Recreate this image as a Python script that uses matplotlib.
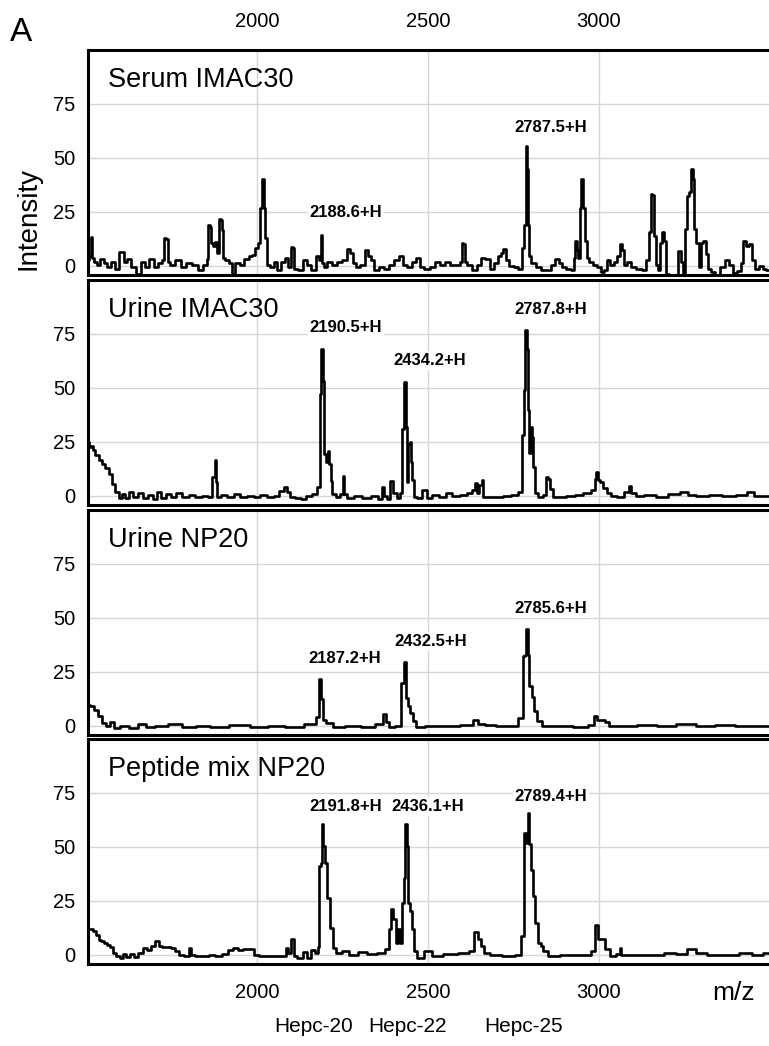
import matplotlib.pyplot as plt

plt.rcParams['font.family'] = ['Liberation Sans', 'DejaVu Sans']

# ---- spectra (m/z, intensity) ----
serum_mz = [1506, 1512, 1516, 1520, 1527, 1537, 1547, 1557, 1566, 1581, 1591, 1605, 1615, 1625,
            1639, 1654, 1669, 1678, 1693, 1703, 1717, 1727, 1732, 1737, 1740, 1751, 1771, 1786,
            1800, 1820, 1834, 1849, 1857, 1859, 1865, 1868, 1876, 1880, 1886, 1891, 1896, 1900,
            1903, 1913, 1922, 1932, 1942, 1956, 1971, 1981, 1990, 2000, 2007, 2013, 2018, 2022,
            2027, 2032, 2044, 2054, 2065, 2078, 2088, 2095, 2102, 2107, 2112, 2127, 2141, 2151,
            2166, 2180, 2185, 2190, 2193, 2198, 2212, 2227, 2242, 2256, 2269, 2276, 2283, 2295,
            2310, 2320, 2327, 2337, 2349, 2364, 2378, 2393, 2407, 2422, 2432, 2446, 2461, 2471,
            2481, 2495, 2515, 2529, 2544, 2558, 2573, 2588, 2597, 2600, 2606, 2609, 2622, 2636,
            2649, 2661, 2675, 2688, 2700, 2710, 2717, 2724, 2731, 2744, 2758, 2771, 2780, 2784,
            2788, 2792, 2794, 2798, 2807, 2822, 2836, 2851, 2866, 2877, 2888, 2898, 2912, 2922,
            2929, 2932, 2937, 2942, 2946, 2951, 2956, 2961, 2966, 2976, 2990, 3000, 3010, 3019,
            3026, 3039, 3049, 3058, 3063, 3070, 3076, 3088, 3102, 3117, 3132, 3144, 3149, 3153,
            3159, 3163, 3168, 3175, 3182, 3188, 3193, 3198, 3210, 3227, 3237, 3242, 3249, 3256,
            3261, 3266, 3271, 3276, 3281, 3288, 3294, 3302, 3309, 3315, 3322, 3334, 3346, 3361,
            3373, 3385, 3400, 3409, 3419, 3426, 3434, 3442, 3451, 3461, 3473, 3484, 3494]
serum_int = [2.7, 4.3, 13.1, 3.5, 1.9, 0.3, 3.0, 1.1, -0.5, 1.9, -1.3, 6.4, 1.9, 3.0,
             -0.5, -3.7, 1.9, -0.5, 3.0, -0.5, 1.1, 2.7, 12.7, 12.3, 1.9, 0.3, 2.7, -0.5,
             1.1, 0.3, -2.1, 0.3, 3.0, 18.8, 18.0, 10.7, 9.1, 11.1, 5.9, 21.6, 21.2, 16.4,
             3.5, 2.7, 1.1, -3.7, 1.1, 0.3, 3.0, 4.3, 5.1, 8.3, 10.7, 26.8, 40.4, 26.8,
             12.7, 0.3, -0.5, 1.9, -2.1, 1.9, 3.5, -0.5, 8.8, 8.3, -1.3, -2.1, 2.7, 0.3,
             -1.8, 4.3, 2.7, 14.3, 1.1, -0.5, 1.9, 0.3, 1.9, 2.7, 7.9, 5.9, 1.1, -0.5,
             0.3, 7.2, 4.3, 2.7, -2.1, -0.5, -1.3, 0.3, 2.7, 4.3, 0.3, -0.5, 1.9, 3.5,
             -0.5, -1.3, -0.5, 1.9, 0.3, 1.9, 0.3, 0.3, 1.9, 10.7, 9.9, 1.9, 0.3, -2.1,
             0.3, 3.5, 3.0, -1.3, 1.1, 4.3, 5.9, 7.9, 2.7, -0.2, -0.5, -1.3, 8.3, 18.8,
             55.3, 44.7, 18.8, 4.3, 1.1, -0.5, -1.8, -2.1, 0.3, 3.0, 1.1, -0.5, -1.3, -2.1,
             3.5, 11.5, 7.5, 3.5, 26.8, 40.4, 26.8, 11.5, 3.5, 1.9, 0.3, -0.5, -2.9, -2.1,
             2.7, 0.3, 1.9, 4.3, 9.9, 7.5, 0.3, 1.9, -0.5, -1.3, -2.1, 2.7, 15.5, 33.2,
             32.9, 13.9, 0.3, -2.1, 10.7, 15.5, 11.5, -3.7, -5.0, -5.0, 6.7, 1.9, -3.7, 17.2,
             32.4, 34.0, 44.7, 40.4, 17.2, 10.7, -0.5, 10.7, 11.5, 5.6, -1.3, -2.9, -4.5, -0.5,
             2.7, 0.3, -3.4, -2.4, 1.1, 11.5, 9.1, 9.9, 2.7, -1.3, -0.2, -1.3, -2.1]

urine_imac_mz = [1506, 1513, 1517, 1522, 1532, 1542, 1552, 1561, 1571, 1581, 1591, 1600, 1610,
                 1620, 1633, 1644, 1659, 1673, 1688, 1703, 1714, 1727, 1742, 1756, 1771, 1790,
                 1810, 1829, 1849, 1866, 1874, 1878, 1882, 1886, 1903, 1922, 1942, 1961, 1981,
                 2000, 2019, 2039, 2058, 2073, 2083, 2091, 2102, 2122, 2136, 2151, 2171, 2180,
                 2186, 2191, 2195, 2199, 2204, 2209, 2213, 2218, 2223, 2238, 2249, 2252, 2257,
                 2272, 2296, 2321, 2345, 2365, 2369, 2374, 2384, 2394, 2404, 2413, 2421, 2427,
                 2433, 2437, 2441, 2444, 2448, 2452, 2456, 2462, 2474, 2493, 2503, 2522, 2542,
                 2561, 2581, 2605, 2625, 2634, 2639, 2645, 2654, 2659, 2665, 2683, 2708, 2732,
                 2756, 2771, 2778, 2783, 2787, 2790, 2794, 2798, 2802, 2806, 2811, 2817, 2829,
                 2844, 2849, 2854, 2862, 2871, 2893, 2917, 2942, 2966, 2985, 2990, 2995, 3000,
                 3008, 3018, 3029, 3044, 3063, 3083, 3090, 3097, 3117, 3146, 3185, 3219, 3253,
                 3268, 3302, 3341, 3380, 3419, 3444, 3463, 3494]
urine_imac_int = [25.0, 22.7, 23.0, 21.1, 18.8, 16.7, 14.8, 13.0, 10.2, 5.5, 1.6, -1.1, 0.8,
                  -1.1, 1.6, -0.5, 1.1, -1.1, 0.5, -1.6, 1.6, -1.1, 0.8, -0.5, 1.1, -0.8,
                  0.5, -0.8, 0.0, -0.5, 8.6, 16.4, 6.3, -0.8, 0.5, -0.8, 0.8, -0.8, 0.0,
                  -0.5, 0.5, -0.8, 0.0, 2.3, 3.9, 1.6, -0.5, -1.1, -1.6, 0.0, 0.8, 3.9,
                  47.2, 68.0, 53.3, 19.3, 15.5, 20.9, 14.7, 7.0, 0.8, -0.8, 0.8, 9.3, 0.8,
                  -1.1, 0.0, -1.1, 0.0, -1.5, 3.9, 0.0, -1.5, 7.0, 1.1, -1.2, 1.1, 31.1,
                  52.7, 31.9, 6.5, 24.2, 25.0, 15.7, 7.2, -0.5, -1.2, 2.6, -1.2, 0.3, -0.5,
                  1.4, -0.2, 0.3, 1.1, 2.6, 5.7, 1.1, 4.9, 7.2, -0.5, -0.8, -0.5, -0.2,
                  0.3, 1.8, 28.0, 48.8, 76.6, 68.1, 39.6, 19.6, 31.9, 27.3, 13.4, 1.1, -0.8,
                  0.3, 8.8, 7.6, 2.9, -0.5, -0.8, -0.2, 0.3, 1.1, 2.6, 7.6, 11.1, 7.2,
                  6.5, 3.4, 1.1, -0.2, -0.8, 1.8, 4.5, 1.1, -0.2, 0.3, -0.8, 0.8, 1.8,
                  0.3, -0.2, 0.3, -0.2, 0.3, 1.7, -0.2, -0.2]

urine_np_mz = [1505, 1517, 1528, 1540, 1551, 1565, 1577, 1588, 1613, 1641, 1666, 1685, 1720,
               1761, 1799, 1842, 1885, 1950, 2007, 2057, 2108, 2165, 2179, 2185, 2189, 2195,
               2208, 2237, 2280, 2330, 2363, 2373, 2380, 2394, 2416, 2424, 2433, 2439, 2445,
               2452, 2459, 2473, 2509, 2566, 2624, 2638, 2652, 2681, 2717, 2753, 2774, 2780,
               2786, 2789, 2793, 2800, 2807, 2815, 2825, 2839, 2896, 2954, 2982, 2989, 2999,
               3011, 3022, 3037, 3083, 3140, 3197, 3255, 3312, 3369, 3427, 3496]
urine_np_int = [9.7, 9.3, 7.4, 4.3, 1.2, -0.3, 1.5, -1.1, -0.3, -0.9, 0.9, -0.8, 0.0,
                0.6, -0.5, 0.0, -0.8, 0.3, -0.5, 0.0, -0.5, 0.6, 4.0, 21.6, 12.3, 2.8,
                1.2, -0.6, 0.0, -0.6, 0.9, 5.4, 1.5, -0.6, -0.3, 19.8, 29.5, 12.8, 9.0,
                5.9, 2.0, -0.6, 0.0, -0.3, 0.3, 2.5, 0.9, 0.3, -0.3, 0.0, 3.5, 32.1,
                32.9, 44.9, 32.9, 18.2, 13.3, 6.6, 2.0, 0.0, -0.3, -0.6, 0.5, 4.3, 2.8,
                2.8, 1.5, -0.3, -0.3, 0.3, 0.0, 0.6, -0.3, 0.3, -0.3, -0.2]

peptide_mz = [1506, 1518, 1525, 1533, 1541, 1549, 1557, 1566, 1574, 1584, 1594, 1603, 1613,
              1623, 1634, 1646, 1659, 1672, 1683, 1698, 1708, 1717, 1730, 1742, 1753, 1766,
              1781, 1795, 1805, 1810, 1829, 1849, 1868, 1888, 1907, 1922, 1937, 1951, 1966,
              1985, 1995, 2015, 2039, 2063, 2081, 2088, 2095, 2104, 2110, 2127, 2141, 2151,
              2166, 2175, 2180, 2184, 2188, 2192, 2196, 2202, 2209, 2218, 2225, 2237, 2258,
              2280, 2308, 2337, 2366, 2380, 2390, 2396, 2402, 2409, 2416, 2422, 2428, 2432,
              2436, 2440, 2445, 2449, 2456, 2463, 2473, 2502, 2523, 2566, 2609, 2631, 2641,
              2650, 2660, 2670, 2695, 2739, 2767, 2779, 2784, 2790, 2794, 2799, 2803, 2810,
              2817, 2825, 2833, 2842, 2860, 2911, 2968, 2985, 2994, 3001, 3011, 3022, 3040,
              3057, 3063, 3068, 3111, 3169, 3212, 3240, 3276, 3291, 3341, 3384, 3434, 3463,
              3496]
peptide_int = [11.8, 11.8, 10.8, 9.2, 6.9, 6.5, 5.4, 4.6, 3.5, 0.8, -0.5, -1.5, 0.5,
               -1.1, 0.3, -1.1, 0.8, 3.1, 2.3, 4.2, 6.2, 4.2, 3.8, 3.5, 2.9, 1.5,
               0.0, -0.5, 3.1, 0.0, -0.5, -0.8, 0.0, -0.5, 0.5, 2.0, 3.1, 2.3, 2.6,
               2.6, 0.0, -0.8, -0.8, -0.8, -0.5, 3.1, 0.8, 7.2, -0.8, -1.5, 1.1, -1.5,
               2.3, 0.8, 3.5, 41.0, 42.6, 60.6, 50.3, 42.6, 26.4, 12.5, 3.2, 0.9, 1.7,
               -0.3, 1.2, 0.2, 0.6, 2.8, 11.7, 21.0, 16.4, 5.6, 11.7, 5.6, 24.1, 35.6,
               60.6, 50.3, 24.1, 20.2, 11.7, 1.7, -1.4, 1.7, -0.6, 0.2, 0.9, 1.7, 10.5,
               7.1, 4.0, 0.9, 0.0, -0.6, -0.3, 8.6, 56.5, 51.9, 65.7, 51.1, 39.5, 27.2,
               14.8, 5.6, 4.0, 1.7, -0.6, -0.3, 0.0, 1.7, 14.0, 7.1, 7.4, 2.5, -0.6,
               0.2, 3.2, 0.0, -0.3, 0.0, 0.9, 0.2, 2.5, 0.6, 0.0, -0.3, 0.9, 0.0,
               0.6]

panel_names = ['Serum IMAC30', 'Urine IMAC30', 'Urine NP20', 'Peptide mix NP20']
panel_mz = [serum_mz, urine_imac_mz, urine_np_mz, peptide_mz]
panel_int = [serum_int, urine_imac_int, urine_np_int, peptide_int]

# peak labels: text, label x, label y
peak_labels = [
    [('2188.6+H', 2260, 24.5), ('2787.5+H', 2860, 64)],
    [('2190.5+H', 2260, 78), ('2434.2+H', 2506, 62.5), ('2787.8+H', 2860, 86.5)],
    [('2187.2+H', 2257, 31), ('2432.5+H', 2509, 39), ('2785.6+H', 2860, 54.5)],
    [('2191.8+H', 2260, 68.5), ('2436.1+H', 2500, 68.5), ('2789.4+H', 2860, 73.5)],
]

hepc_names = ['Hepc-20', 'Hepc-22', 'Hepc-25']
hepc_mz = [2165, 2440, 2780]

x_ticks = [2000, 2500, 3000]
y_ticks = [0, 25, 50, 75]

W, H = 769, 1046
fig = plt.figure(figsize=(W / 100, H / 100), dpi=100)

tops = [50, 280, 510, 739]
ph = 225
axes = []
for i in range(4):
    ax = fig.add_axes([88 / W, 1 - (tops[i] + ph) / H, 682 / W, ph / H])
    # blocky trace like the instrument export
    ax.plot(panel_mz[i], panel_int[i], color='black', lw=1.9, drawstyle='steps-mid')
    ax.set_xlim(1506, 3500)
    ax.set_ylim(-4.3, 100)
    ax.set_xticks(x_ticks)
    ax.set_yticks(y_ticks)
    ax.grid(color='#d6d6d6', lw=1.0)
    ax.set_axisbelow(True)
    ax.tick_params(length=0, labelsize=14.5, pad=9)
    for side in ['left', 'top', 'bottom']:
        ax.spines[side].set_linewidth(2.2)
    ax.spines['right'].set_visible(False)
    ax.tick_params(axis='x', labelbottom=False, labeltop=False, pad=14)
    ax.text(0.03, 1 - 30 / ph, panel_names[i], transform=ax.transAxes,
            fontsize=19.5, va='center', ha='left')
    for txt, lx, ly in peak_labels[i]:
        ax.text(lx, ly, txt, fontsize=12, fontweight='bold', ha='center', va='center',
                bbox=dict(facecolor='white', edgecolor='none', pad=1.5))
    axes.append(ax)

axes[0].tick_params(axis='x', labeltop=True)
axes[3].tick_params(axis='x', labelbottom=True)

fig.text(21 / W, 1 - 33 / H, 'A', fontsize=24, ha='center', va='center')
fig.text(28 / W, 1 - 218 / H, 'Intensity', fontsize=20, rotation=90, ha='center', va='center')
fig.text(734 / W, 1 - 993 / H, 'm/z', fontsize=19, ha='center', va='center')
for name, mz in zip(hepc_names, hepc_mz):
    axes[3].text(mz, -0.28, name, transform=axes[3].get_xaxis_transform(),
                 fontsize=15, ha='center', va='center')

fig.savefig('out.png', dpi=100)
